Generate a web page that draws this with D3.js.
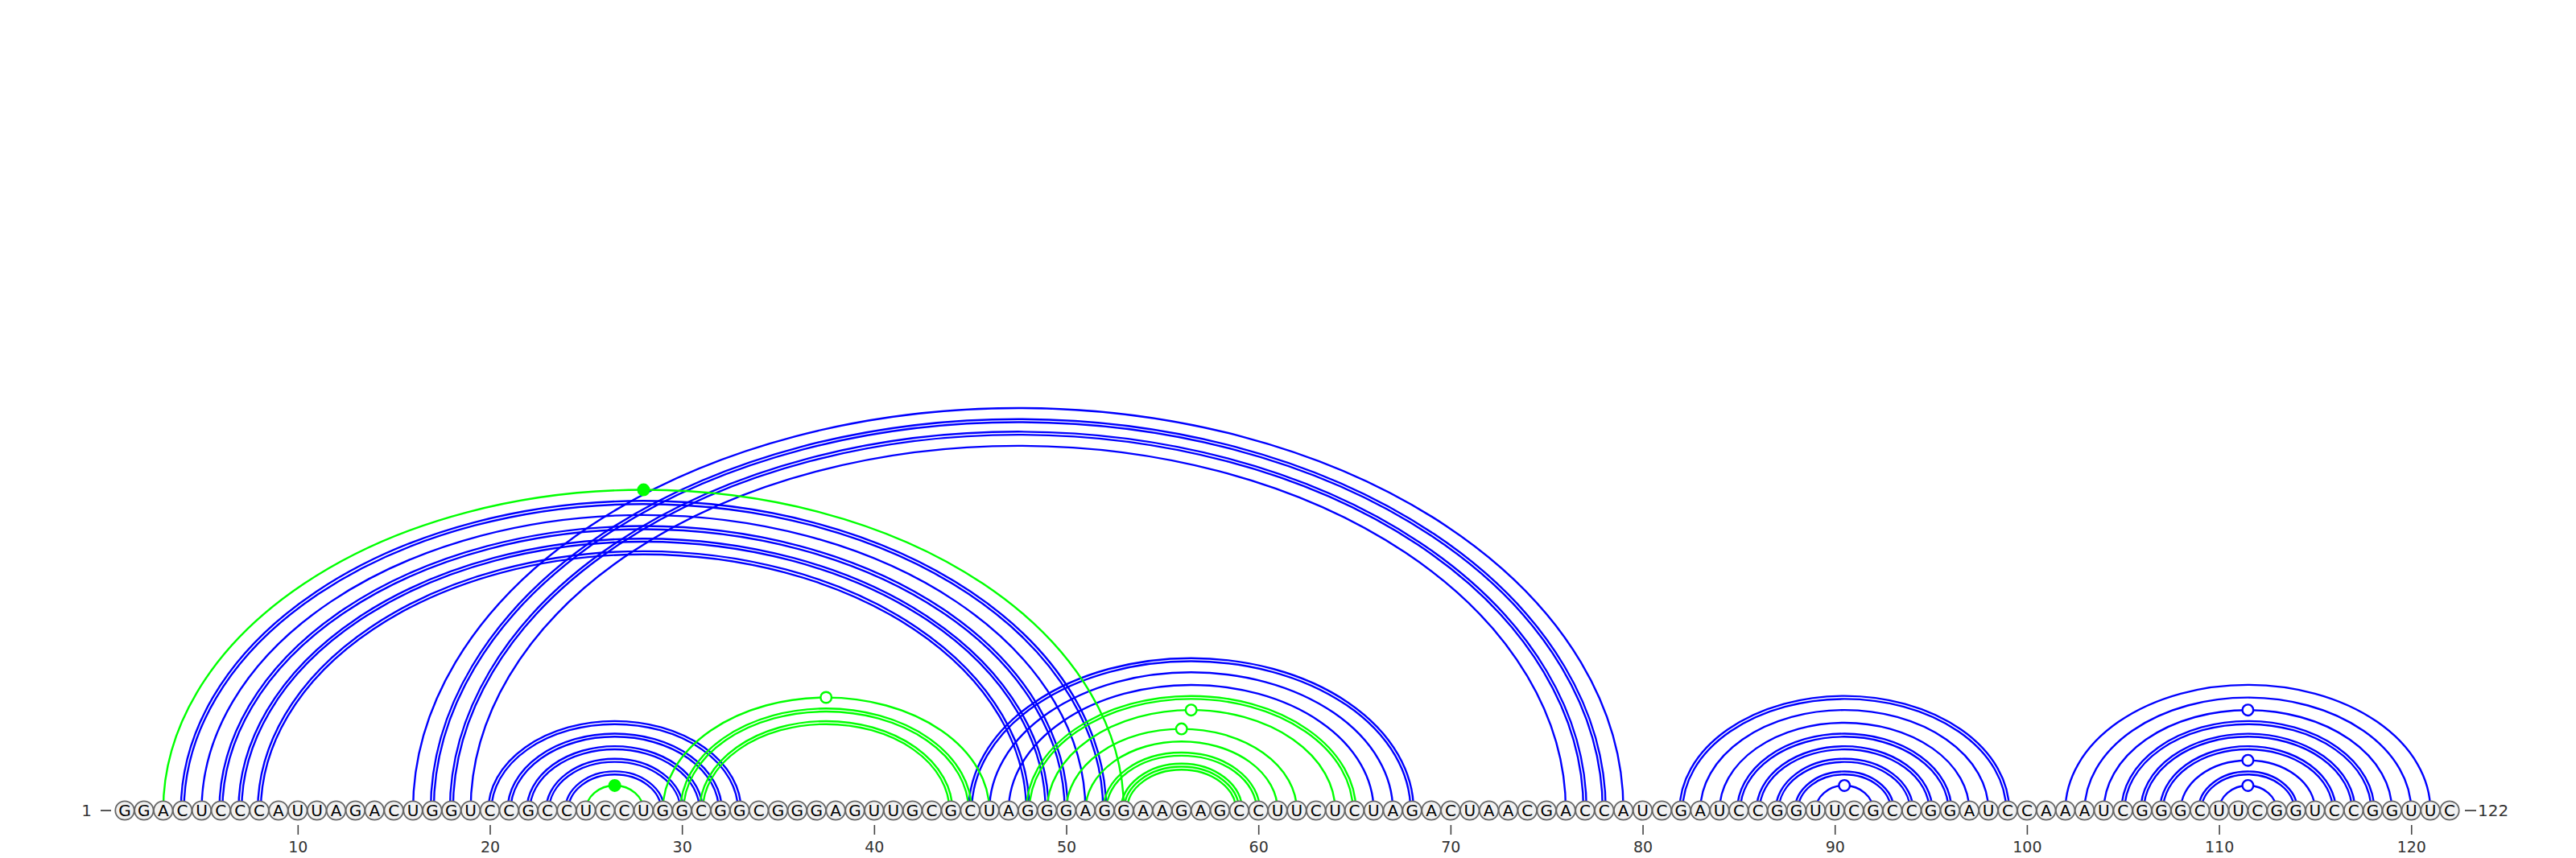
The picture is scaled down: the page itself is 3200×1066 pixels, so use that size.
<!DOCTYPE html>
<html>
<head>
<meta charset="utf-8">
<script src="https://cdn.jsdelivr.net/npm/d3@7"></script>
<style>
  body { margin: 0; background: #fff; }
  svg { display: block; font-family: "DejaVu Sans", Verdana, sans-serif; }
</style>
</head>
<body>
<div id="wrapper"></div>
<script>
// sequence (1..122)
const sequence = "GGACUCCCAU" + "UAGACUGGUC" + "CGCCUCCUGG" + "CGGCGGGAGU" +
  "UGCGCUAGGG" + "AGGAAGAGCC" + "UUCUCUAGAC" + "UAACGACCAU" +
  "CGAUCCGGUU" + "CGCCGGAUCC" + "AAAUCGGGCU" + "UCGGUCCGGU" + "UC"

// [i, j, how many overlapping copies]
const bluePairs = [
  [4,52,2],[5,51,1],[6,50,2],[7,49,2],[8,48,2],
  [16,79,1],[17,78,2],[18,77,2],[19,76,1],
  [20,33,2],[21,32,2],[22,31,2],[23,30,2],[24,29,2],
  [45,68,2],[46,67,1],[47,66,1],
  [82,99,2],[83,98,1],[84,97,1],[85,96,2],[86,95,2],[87,94,2],[88,93,2],[89,92,1],
  [102,121,1],[103,120,1],[104,119,1],[105,118,2],[106,117,2],[107,116,2],
  [108,115,1],[109,114,2],[110,113,1]
]
const greenPairs = [
  [3,53,1],[25,28,1],[29,46,1],[30,45,2],[31,44,2],
  [48,65,2],[49,64,1],[50,62,1],[51,61,1],[52,60,2],[53,59,3]
]
// apex markers: [i, j, series, filled]
const markers = [
  [3,53,"green",true],[25,28,"green",true],[29,46,"green",false],
  [49,64,"green",false],[50,62,"green",false],
  [89,92,"blue",false],[104,119,"blue",false],[108,115,"blue",false],[110,113,"blue",false]
]
const tickValues = [10,20,30,40,50,60,70,80,90,100,110,120]

async function drawArcs() {
  const colors = {blue: "#0000ff", green: "#00ff00"}

  let dimensions = {
    width: 3200,
    height: 1066,
    baseline: 1007,
    left: 155,
    right: 3043,
  }

  const wrapper = d3.select("#wrapper").append("svg")
      .attr("width", dimensions.width)
      .attr("height", dimensions.height)

  const xScale = d3.scaleLinear()
      .domain([1, sequence.length])
      .range([dimensions.left, dimensions.right])

  const y0 = dimensions.baseline
  const ryOf = rx => rx * 0.655 + 7.6

  // d shifts a copy outwards/inwards, keeping the copies parallel
  const arcPath = (i, j, d) => {
    const cx = (xScale(i) + xScale(j)) / 2
    const half = (xScale(j) - xScale(i)) / 2
    const rx = half + d
    const ry = ryOf(half) + d
    return `M${cx - rx},${y0} A${rx},${ry} 0 0 1 ${cx + rx},${y0}`
  }

  // expand copies into separate arcs
  const expand = (pairs, series) => pairs.flatMap(([i, j, n]) =>
    d3.range(n).map(k => ({i, j, series, d: (k - (n - 1) / 2) * 3.8})))

  const arcs = expand(bluePairs, "blue").concat(expand(greenPairs, "green"))

  wrapper.append("g").selectAll("path")
      .data(arcs).enter().append("path")
          .attr("d", a => arcPath(a.i, a.j, a.d))
          .attr("fill", "none")
          .attr("stroke", a => colors[a.series])
          .attr("stroke-width", 2.4)

  //markers at the apex
  wrapper.append("g").selectAll("circle")
      .data(markers).enter().append("circle")
          .attr("cx", m => (xScale(m[0]) + xScale(m[1])) / 2)
          .attr("cy", m => y0 - ryOf((xScale(m[1]) - xScale(m[0])) / 2))
          .attr("r", 6.8)
          .attr("fill", m => m[3] ? colors[m[2]] : "#fff")
          .attr("stroke", m => colors[m[2]])
          .attr("stroke-width", 2.4)

  //nucleotides
  const bases = sequence.split("").map((b, i) => ({b, pos: i + 1}))
  const nt = wrapper.append("g").selectAll("g")
      .data(bases).enter().append("g")
          .attr("transform", d => `translate(${xScale(d.pos)},${y0})`)
  nt.append("circle")
      .attr("r", 11.7)
      .attr("fill", "#f2f2f2")
      .attr("stroke", "#666")
      .attr("stroke-width", 1.8)
  nt.append("text")
      .attr("text-anchor", "middle")
      .attr("dy", "0.36em")
      .attr("font-size", 20)
      .attr("fill", "#000")
      .text(d => d.b)

  //ends
  wrapper.append("text")
      .attr("x", 114).attr("y", y0).attr("dy", "0.36em")
      .attr("text-anchor", "end")
      .attr("font-size", 20)
      .attr("fill", "#333")
      .text("1")
  wrapper.append("line")
      .attr("x1", 125).attr("x2", 138).attr("y1", y0).attr("y2", y0)
      .attr("stroke", "#444").attr("stroke-width", 1.8)
  wrapper.append("line")
      .attr("x1", 3062).attr("x2", 3076).attr("y1", y0).attr("y2", y0)
      .attr("stroke", "#444").attr("stroke-width", 1.8)
  wrapper.append("text")
      .attr("x", 3078).attr("y", y0).attr("dy", "0.36em")
      .attr("font-size", 20)
      .attr("fill", "#333")
      .text(sequence.length)

  //axis
  const xAxisGenerator = d3.axisBottom()
      .scale(xScale)
      .tickValues(tickValues)
      .tickSize(12)
      .tickPadding(9)

  const xAxis = wrapper.append("g")
      .attr("transform", `translate(0,1025)`)
      .call(xAxisGenerator)
  xAxis.select(".domain").remove()
  xAxis.selectAll("line").attr("stroke", "#444").attr("stroke-width", 1.6)
  xAxis.selectAll("text")
      .attr("font-size", 19)
      .attr("font-family", "DejaVu Sans, Verdana, sans-serif")
      .attr("fill", "#333")
}
drawArcs()
</script>
</body>
</html>
